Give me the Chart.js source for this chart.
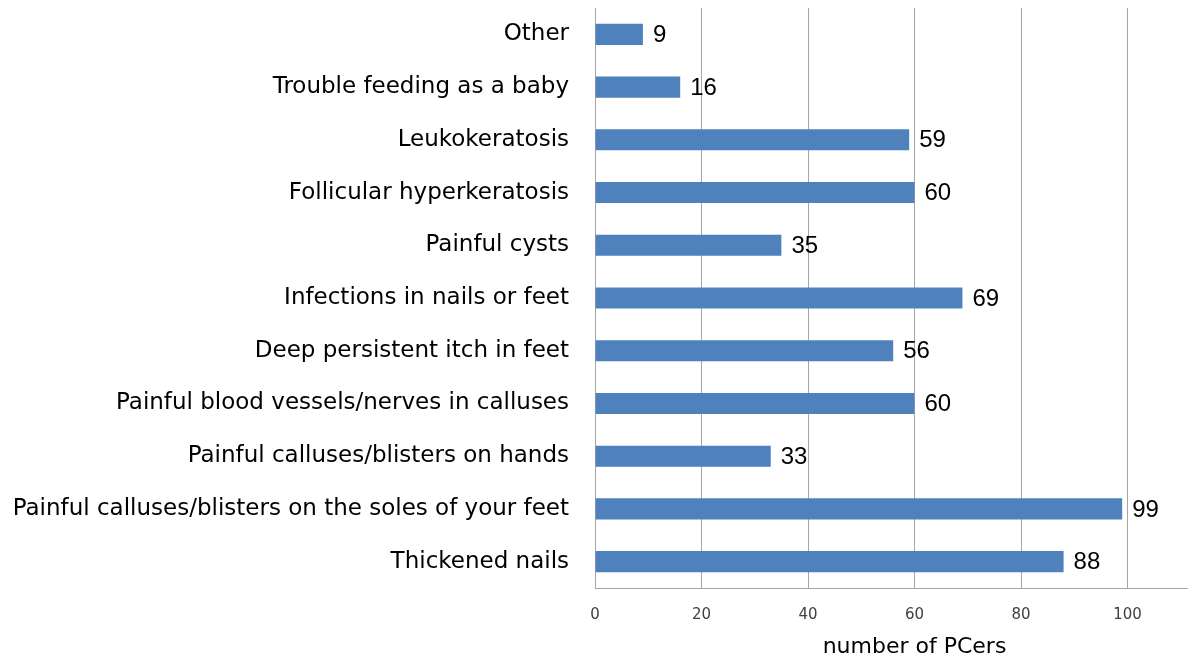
<!DOCTYPE html>
<html>
<head>
<meta charset="utf-8">
<script src="https://cdn.jsdelivr.net/npm/chart.js@4"></script>
<style>
  body { margin: 0; overflow: hidden; background: #fff; }
</style>
</head>
<body>
<canvas id="chart" width="1240" height="662"></canvas>
<script>
const categories = [
  "Other",
  "Trouble feeding as a baby",
  "Leukokeratosis",
  "Follicular hyperkeratosis",
  "Painful cysts",
  "Infections in nails or feet",
  "Deep persistent itch in feet",
  "Painful blood vessels/nerves in calluses",
  "Painful calluses/blisters on hands",
  "Painful calluses/blisters on the soles of your feet",
  "Thickened nails"
];
const counts = [9, 16, 59, 60, 35, 69, 56, 60, 33, 99, 88];
const xTicks = [0, 20, 40, 60, 80, 100];

// draw value next to each bar end
const valueLabels = {
  id: "valueLabels",
  afterDatasetsDraw(chart) {
    const ctx = chart.ctx;
    const meta = chart.getDatasetMeta(0);
    ctx.save();
    ctx.font = "24px 'Liberation Sans'";
    ctx.fillStyle = "#000";
    ctx.textAlign = "left";
    ctx.textBaseline = "middle";
    meta.data.forEach((bar, i) => {
      ctx.fillText(String(counts[i]), bar.x + 10, bar.y + 1);
    });
    ctx.restore();
  }
};

new Chart(document.getElementById("chart"), {
  type: "bar",
  data: {
    labels: categories,
    datasets: [{
      data: counts,
      backgroundColor: "#4F81BD",
      borderWidth: 0,
      barPercentage: 0.4,
      categoryPercentage: 1.0
    }]
  },
  options: {
    indexAxis: "y",
    responsive: false,
    animation: false,
    layout: { padding: { top: 8, right: 6, bottom: 0, left: 0 } },
    plugins: {
      legend: { display: false },
      tooltip: { enabled: false }
    },
    scales: {
      x: {
        min: 0,
        max: 120,
        afterBuildTicks(axis) {
          axis.ticks = xTicks.map(v => ({ value: v }));
        },
        afterFit(axis) {
          axis.height = 74;
          axis.paddingLeft = 0;
          axis.paddingRight = 0;
        },
        grid: { color: "#a6a6a6", drawTicks: false },
        border: { color: "#a6a6a6" },
        ticks: {
          padding: 18,
          maxRotation: 0,
          minRotation: 0,
          color: "#404040",
          font: { family: "DejaVu Sans", size: 15 }
        },
        title: {
          display: true,
          text: "number of PCers",
          color: "#000",
          font: { family: "DejaVu Sans", size: 22 },
          padding: { top: 14, bottom: 2 }
        }
      },
      y: {
        afterFit(axis) {
          axis.width = 595;
          axis.paddingTop = 0;
          axis.paddingBottom = 0;
        },
        grid: { display: false, drawTicks: false },
        border: { color: "#a6a6a6" },
        ticks: {
          padding: 26,
          color: "#000",
          font: { family: "DejaVu Sans", size: 23 }
        }
      }
    }
  },
  plugins: [valueLabels]
});
</script>
</body>
</html>
